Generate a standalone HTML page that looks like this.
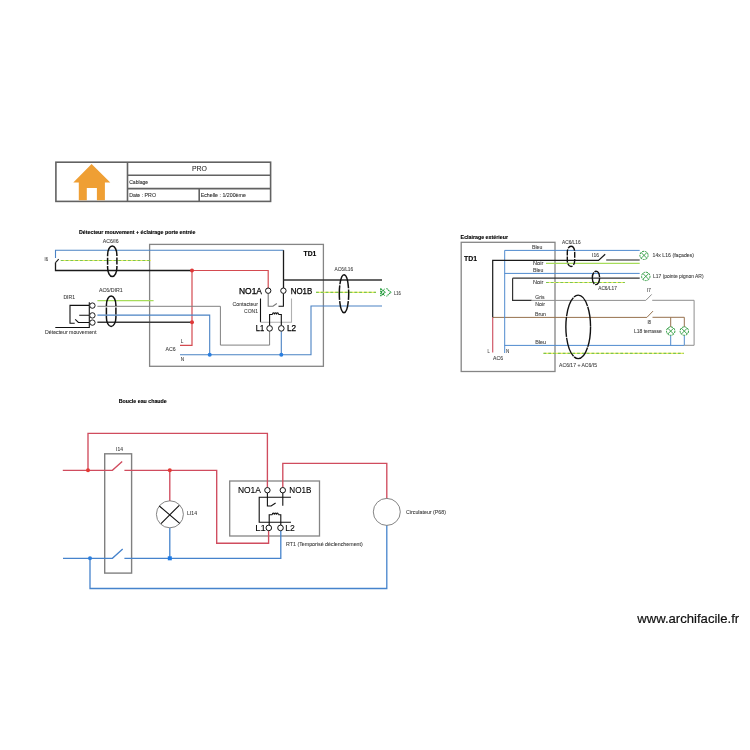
<!DOCTYPE html>
<html><head><meta charset="utf-8">
<style>
html,body{margin:0;padding:0;background:#fff;width:750px;height:750px;overflow:hidden}
svg{display:block;will-change:transform}
text{font-family:"Liberation Sans",sans-serif}
</style></head>
<body>
<svg width="750" height="750" viewBox="0 0 750 750">
<rect width="750" height="750" fill="#fff"/>

<!-- ===== Title block ===== -->
<g fill="none" stroke="#626262" stroke-width="1.6">
<rect x="55.9" y="162.2" width="214.7" height="39.2"/>
<path d="M127.5,162.2V201.4M127.5,175.2H270.6M127.5,188.6H270.6M199.2,188.6V201.4"/>
</g>
<path d="M91.6,164.1L110.3,182.5H104.9V200.3H96.9V188H86.8V200.3H78.8V182.5H73.3Z" fill="#ef9f34"/>
<g fill="#2a2a2a" stroke="#2a2a2a" stroke-width="0.08">
<text x="191.9" y="171.1" font-size="7" textLength="15" lengthAdjust="spacingAndGlyphs">PRO</text>
<text x="129.2" y="184" font-size="5.2" textLength="19" lengthAdjust="spacingAndGlyphs" >Cablage</text>
<text x="129.2" y="196.9" font-size="5.2" textLength="26.8" lengthAdjust="spacingAndGlyphs" >Date : PRO</text>
<text x="200.7" y="196.9" font-size="5.2" textLength="45.2" lengthAdjust="spacingAndGlyphs" >Echelle : 1/200ème</text>
</g>

<!-- ===== Diagram 1 ===== -->
<text x="79" y="234" font-size="5.3" font-weight="bold" fill="#000" stroke="#000" stroke-width="0.12" textLength="116.5" lengthAdjust="spacingAndGlyphs">Détecteur mouvement + éclairage porte entrée</text>
<rect x="149.6" y="244.4" width="173.8" height="121.9" fill="none" stroke="#858585" stroke-width="1.3"/>
<text x="303.6" y="255.9" font-size="6.8" font-weight="bold" fill="#000" stroke="#000" stroke-width="0.12" textLength="12.8" lengthAdjust="spacingAndGlyphs">TD1</text>

<g fill="none" stroke-width="1.3">
<path d="M55.5,258.1V250.2H283.5" stroke="#4a82c4" stroke-width="1.1"/>
<path d="M55.5,262.6V270.5H192" stroke="#1a1a1a"/>
<path d="M55.5,262.6L58.7,259.2" stroke="#1a1a1a" stroke-width="1.1"/>
<path d="M192,270.5H268.2V288M192,270.5V345.3H180" stroke="#d44a50" stroke-width="1.2"/>
<path d="M283.5,250.2V288" stroke="#1a1a1a"/>
<path d="M283.5,280.1H382" stroke="#333" stroke-width="1.5"/>
<path d="M97.4,306.3H220.4V345.1H269.6V331.3" stroke="#808080" stroke-width="1.0"/>
<path d="M97.4,315.1H209.7V354.7M180,354.7H311V306H382M281.3,331.3V354.7" stroke="#4a82c4" stroke-width="1.1"/>
<path d="M97.4,322.3H192" stroke="#3a3a3a" stroke-width="1.5"/>
</g>
<g fill="none" stroke-width="1.2">
<path d="M97.4,300.6H153.6" stroke="#a6dc5a"/>
<path d="M60.8,260.5H151M316,292.4H376" stroke="#eef060"/>
<path d="M60.8,260.5H151M316,292.4H376" stroke="#7cc450" stroke-dasharray="2.8,2"/>
</g>
<g fill="#e03838"><circle cx="192" cy="270.5" r="2"/><circle cx="192" cy="322.3" r="2"/></g>
<g fill="#2a7fe0"><circle cx="209.7" cy="354.7" r="2"/><circle cx="281.3" cy="354.7" r="2"/></g>
<g fill="none" stroke="#111" stroke-width="1.5">
<rect x="107.6" y="246" width="9.3" height="30.6" rx="4.65" ry="9" stroke-dasharray="12,1.4,7,1.4,25,1.4,7,1.4,12.6,0"/>
<rect x="106.4" y="296" width="9.5" height="30.4" rx="4.75" ry="9" stroke-dasharray="12,1.4,7,1.4,25,1.4,7,1.4,12.6,0"/>
<ellipse cx="344" cy="293.7" rx="4.7" ry="19" stroke-dasharray="6,1.2,26,1.2,14,1.2,26,1.2,4.6,0"/>
</g>
<!-- DIR1 symbol -->
<g fill="none" stroke="#111" stroke-width="1.1">
<path d="M89.3,302.2V327.5H55.3M89.3,305.4H70V323.3H74.7M75.2,319.3L78.4,322.5H89.3M79.2,315.3H89.3"/>
<circle cx="92.4" cy="305.6" r="2.7" fill="#fff" stroke-width="0.95"/>
<circle cx="92.4" cy="315.4" r="2.7" fill="#fff" stroke-width="0.95"/>
<circle cx="92.4" cy="322.6" r="2.7" fill="#fff" stroke-width="0.95"/>
</g>
<g fill="#3a3a3a" stroke="#3a3a3a" stroke-width="0.08" font-size="5.2" lengthAdjust="spacingAndGlyphs">
<text x="102.7" y="242.8" textLength="15.9" lengthAdjust="spacingAndGlyphs">AC6/I6</text>
<text x="99" y="292.2" textLength="23.6" lengthAdjust="spacingAndGlyphs">AC6/DIR1</text>
<text x="63.4" y="298.9" textLength="11.6" lengthAdjust="spacingAndGlyphs">DIR1</text>
<text x="44.6" y="260.8" textLength="3.4" lengthAdjust="spacingAndGlyphs">I6</text>
<text x="45" y="334" textLength="51.4" lengthAdjust="spacingAndGlyphs">Détecteur mouvement</text>
<text x="334.6" y="271.4" textLength="18.6" lengthAdjust="spacingAndGlyphs">AC6/L16</text>
<text x="394" y="294.7" textLength="6.9" lengthAdjust="spacingAndGlyphs">L16</text>
<text x="180.7" y="343" textLength="2.6" lengthAdjust="spacingAndGlyphs">L</text>
<text x="165.6" y="351" textLength="10.1" lengthAdjust="spacingAndGlyphs">AC6</text>
<text x="180.7" y="360.7" textLength="3.4" lengthAdjust="spacingAndGlyphs">N</text>
<text x="232.5" y="305.8" textLength="25.5" lengthAdjust="spacingAndGlyphs">Contacteur</text>
<text x="244" y="313" textLength="14" lengthAdjust="spacingAndGlyphs">CON1</text>
</g>
<!-- green lamp L16 -->
<g fill="none" stroke="#1f9a38" stroke-width="1.1" stroke-dasharray="1.6,0.6">
<path d="M380.7,288.3V296.3M380.7,288.6L385,292.3L380.7,296M381,292.3L384.8,289M381,292.3L384.8,295.6M386.5,288.3L390.8,292.3L386.5,296.3"/>
</g>

<!-- contactor 1 -->
<g fill="none" stroke-width="1.1">
<path d="M268.2,293.6V306.2H273L276.8,303.5" stroke="#777"/>
<path d="M283.4,293.6V306.2H278.5" stroke="#111"/>
<path d="M260.5,298.5V322.2" stroke="#111"/>
<path d="M291.5,298.5V322.2H260.5" stroke="#b0b0b0"/>
<path d="M269.6,325.5V314.5H272.5M278.5,314.5H281.3V325.5" stroke="#111"/>
<path d="M272.5,314.5a1,1.6 0 0 1 2,0a1,1.6 0 0 1 2,0a1,1.6 0 0 1 2,0" stroke="#111"/>
<circle cx="268.2" cy="290.7" r="2.7" stroke="#111" stroke-width="1" fill="#fff"/>
<circle cx="283.4" cy="290.7" r="2.7" stroke="#111" stroke-width="1" fill="#fff"/>
<circle cx="269.6" cy="328.4" r="2.8" stroke="#111" stroke-width="1" fill="#fff"/>
<circle cx="281.3" cy="328.4" r="2.8" stroke="#111" stroke-width="1" fill="#fff"/>
</g>
<g fill="#000" stroke="#000" stroke-width="0.25" font-size="8.5">
<text x="239" y="293.7" textLength="23" lengthAdjust="spacingAndGlyphs">NO1A</text>
<text x="290.7" y="293.7" textLength="21.5" lengthAdjust="spacingAndGlyphs">NO1B</text>
<text x="255.8" y="330.6" textLength="8.4" lengthAdjust="spacingAndGlyphs">L1</text>
<text x="287" y="330.6" textLength="9.2" lengthAdjust="spacingAndGlyphs">L2</text>
</g>

<!-- ===== Diagram 2 ===== -->
<text x="460.6" y="239" font-size="5.3" font-weight="bold" fill="#000" stroke="#000" stroke-width="0.12" textLength="47.4" lengthAdjust="spacingAndGlyphs">Eclairage extérieur</text>
<rect x="461.2" y="242.3" width="93.8" height="129.2" fill="none" stroke="#858585" stroke-width="1.3"/>
<text x="464" y="261" font-size="6.9" font-weight="bold" fill="#000" stroke="#000" stroke-width="0.12" textLength="13" lengthAdjust="spacingAndGlyphs">TD1</text>
<g fill="none" stroke-width="1.2">
<path d="M492.7,317.4H646.9L653,311.1M652.5,317.3H684.3V327M670.7,317.3V327" stroke="#96714e" stroke-width="1"/>
<path d="M504.7,353V250.4H639.7M504.7,273.4H639.7M504.7,345.4H684.3M670.7,335.4V345.4M684.3,335.4V345.4" stroke="#4f8ace" stroke-width="1.0"/>
<path d="M492.7,317.4V260.4H598.5L605.2,254.2" stroke="#1a1a1a"/>
<path d="M606.2,260H639.7" stroke="#666" stroke-width="1.4"/>
<path d="M512.6,278.2H639.7M512.6,278.2V300.3H531.7" stroke="#333"/>
<path d="M492.7,317.4V352.4" stroke="#d05868" stroke-width="1.2"/>
<path d="M531.7,300.4H645.8L651.7,294.4M652.2,300.3H694.1V345.3H684.3" stroke="#8e8e8e" stroke-width="1.0"/>
</g>
<g fill="none" stroke-width="1.2">
<path d="M546,263.4H639.7" stroke="#a6dc5a"/>
<path d="M546,282.5H624.9M543.5,353.4H683.7" stroke="#eef060"/>
<path d="M546,282.5H624.9M543.5,353.4H683.7" stroke="#7cc450" stroke-dasharray="2.8,2"/>
</g>
<g fill="none" stroke="#2a9a3c" stroke-width="1" stroke-dasharray="2,0.8">
<circle cx="644" cy="255.4" r="4.1"/>
<path d="M641.1,252.5L646.9,258.3M646.9,252.5L641.1,258.3" stroke-dasharray="none" stroke-width="0.9"/>
<circle cx="645.8" cy="276.4" r="4.2"/>
<path d="M642.8,273.4L648.8,279.4M648.8,273.4L642.8,279.4" stroke-dasharray="none" stroke-width="0.9"/>
<circle cx="670.7" cy="331.1" r="4.2"/>
<path d="M667.7,328.1L673.7,334.1M673.7,328.1L667.7,334.1" stroke-dasharray="none" stroke-width="0.9"/>
<circle cx="684.3" cy="331.1" r="4.2"/>
<path d="M681.3,328.1L687.3,334.1M687.3,328.1L681.3,334.1" stroke-dasharray="none" stroke-width="0.9"/>
</g>
<g fill="none" stroke="#111" stroke-width="1.4" stroke-dasharray="6,1.2">
<rect x="567.3" y="246.2" width="7.4" height="20.3" rx="3.7" ry="6"/>
<ellipse cx="595.95" cy="277.95" rx="3.65" ry="6.65" stroke-dasharray="9,1,12,1"/>
<ellipse cx="578.2" cy="326.9" rx="12.35" ry="31.75" stroke-dasharray="20,0.8"/>
</g>
<g fill="#3a3a3a" stroke="#3a3a3a" stroke-width="0.08" font-size="5.2">
<text x="532" y="248.7" textLength="10.3" lengthAdjust="spacingAndGlyphs">Bleu</text>
<text x="533" y="265" textLength="10.3" lengthAdjust="spacingAndGlyphs">Noir</text>
<text x="533" y="271.6" textLength="10.3" lengthAdjust="spacingAndGlyphs">Bleu</text>
<text x="533" y="283.6" textLength="10.3" lengthAdjust="spacingAndGlyphs">Noir</text>
<text x="535.3" y="298.7" textLength="9.2" lengthAdjust="spacingAndGlyphs">Gris</text>
<text x="535.3" y="305.8" textLength="9.7" lengthAdjust="spacingAndGlyphs">Noir</text>
<text x="535" y="315.8" textLength="11" lengthAdjust="spacingAndGlyphs">Brun</text>
<text x="535.3" y="343.9" textLength="10.7" lengthAdjust="spacingAndGlyphs">Bleu</text>
<text x="487.5" y="353" textLength="2.2" lengthAdjust="spacingAndGlyphs">L</text>
<text x="506" y="353" textLength="3.3" lengthAdjust="spacingAndGlyphs">N</text>
<text x="493" y="359.9" textLength="10" lengthAdjust="spacingAndGlyphs">AC6</text>
<text x="562" y="243.7" textLength="18.6" lengthAdjust="spacingAndGlyphs">AC6/L16</text>
<text x="592.1" y="256.9" textLength="6.9" lengthAdjust="spacingAndGlyphs">I16</text>
<text x="598.2" y="289.6" textLength="18.7" lengthAdjust="spacingAndGlyphs">AC6/L17</text>
<text x="646.9" y="291.6" textLength="3.9" lengthAdjust="spacingAndGlyphs">I7</text>
<text x="647.4" y="323.6" textLength="3.7" lengthAdjust="spacingAndGlyphs">I8</text>
<text x="634" y="332.8" textLength="27.8" lengthAdjust="spacingAndGlyphs">L18 terrasse</text>
<text x="559.1" y="366.9" textLength="37.9" lengthAdjust="spacingAndGlyphs">AC6/17 + AC6/I5</text>
<text x="652.6" y="257.3" textLength="41.4" lengthAdjust="spacingAndGlyphs">14x L16 (façades)</text>
<text x="653" y="278" textLength="50.6" lengthAdjust="spacingAndGlyphs">L17 (pointe pignon AR)</text>
</g>

<!-- ===== Diagram 3 ===== -->
<text x="118.7" y="403" font-size="5.3" font-weight="bold" fill="#000" stroke="#000" stroke-width="0.12" textLength="48" lengthAdjust="spacingAndGlyphs">Boucle eau chaude</text>
<rect x="104.7" y="453.8" width="26.9" height="119.3" fill="none" stroke="#808080" stroke-width="1.4"/>
<rect x="229.7" y="481" width="89.8" height="55" fill="none" stroke="#858585" stroke-width="1.3"/>
<g fill="none" stroke-width="1.3">
<path d="M88,470.3V433.3H267.4V487.4M62.8,470.3H112.4L122.2,461.4M124.4,470.3H216.7V543.2H268.6V530.8M282.8,487.4V463.4H386.8V498.4M169.8,470.3V501" stroke="#d04c5e" stroke-width="1.35"/>
<path d="M169.8,528V558.3M63,558.3H112.4L122.7,549M124.4,558.3H280.8V530.8M90,558.3V588.5H386.8V525.3" stroke="#4683cc" stroke-width="1.3"/>
</g>
<g fill="#e43a34"><circle cx="88" cy="470.3" r="2"/><circle cx="169.8" cy="470.3" r="2"/></g>
<circle cx="90" cy="558.3" r="2" fill="#2a7fe0"/>
<rect x="167.8" y="556.3" width="4" height="4" fill="#1a7ae8"/>
<circle cx="169.9" cy="514.3" r="13.5" fill="none" stroke="#777" stroke-width="0.9"/>
<path d="M159.3,506L179.7,523.3M161,523.7L179.3,505.3" stroke="#111" stroke-width="1.1"/>
<circle cx="386.8" cy="511.9" r="13.5" fill="none" stroke="#777" stroke-width="0.9"/>
<g fill="#3a3a3a" stroke="#3a3a3a" stroke-width="0.08" font-size="5.2">
<text x="116" y="450.8" textLength="6.9" lengthAdjust="spacingAndGlyphs">I14</text>
<text x="187" y="515.3" textLength="10" lengthAdjust="spacingAndGlyphs">LI14</text>
<text x="406" y="513.8" textLength="40" lengthAdjust="spacingAndGlyphs">Circulateur (P68)</text>
<text x="286" y="545.8" textLength="76.8" lengthAdjust="spacingAndGlyphs">RT1 (Temporisé déclenchement)</text>
</g>
<!-- contactor 2 -->
<g fill="none" stroke-width="1.1">
<path d="M267.4,493V506H271.1L275.6,503" stroke="#111"/>
<path d="M282.8,493V505.8" stroke="#111"/>
<path d="M291,497.3H259.2V522.2H291" stroke="#111"/>
<path d="M269.2,525V514.7H272.3M278.3,514.7H280.8V525" stroke="#111"/>
<path d="M272.3,514.7a1,1.6 0 0 1 2,0a1,1.6 0 0 1 2,0a1,1.6 0 0 1 2,0" stroke="#111"/>
<circle cx="267.4" cy="490.2" r="2.7" stroke="#111" stroke-width="1" fill="#fff"/>
<circle cx="282.8" cy="490.2" r="2.7" stroke="#111" stroke-width="1" fill="#fff"/>
<circle cx="268.8" cy="527.9" r="2.8" stroke="#111" stroke-width="1" fill="#fff"/>
<circle cx="280.5" cy="527.9" r="2.8" stroke="#111" stroke-width="1" fill="#fff"/>
</g>
<g fill="#000" stroke="#000" stroke-width="0.1" font-size="8.3">
<text x="237.9" y="492.8" textLength="23" lengthAdjust="spacingAndGlyphs">NO1A</text>
<text x="289.3" y="492.8" textLength="22.1" lengthAdjust="spacingAndGlyphs">NO1B</text>
<text x="255.2" y="530.5" textLength="10.6" lengthAdjust="spacingAndGlyphs">L1</text>
<text x="285.3" y="530.5" textLength="9.6" lengthAdjust="spacingAndGlyphs">L2</text>
</g>

<text x="637.3" y="623" font-size="13" fill="#111" stroke="#111" stroke-width="0.2" textLength="101.9" lengthAdjust="spacingAndGlyphs">www.archifacile.fr</text>
</svg>
</body></html>
